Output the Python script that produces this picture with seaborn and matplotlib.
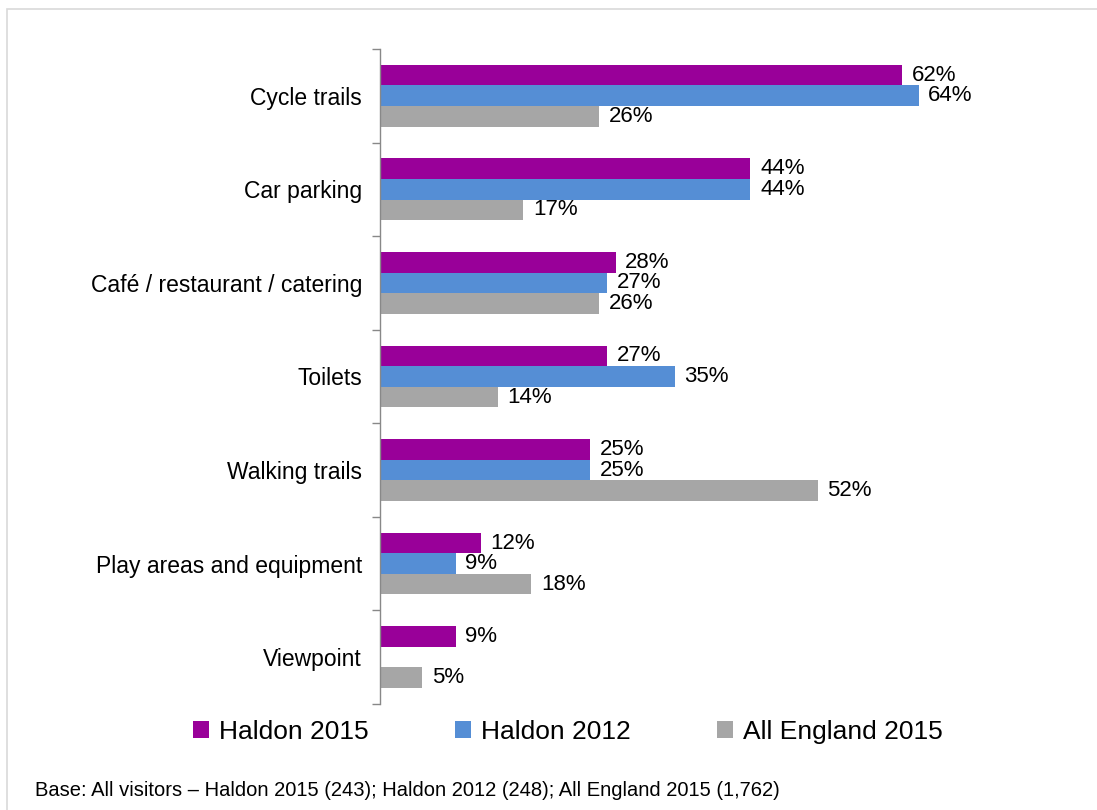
import matplotlib
matplotlib.use("Agg")
import matplotlib.pyplot as plt
from matplotlib.patches import Patch, Rectangle
import numpy as np
import pandas as pd
import seaborn as sns

categories = ["Cycle trails", "Car parking", "Café / restaurant / catering",
              "Toilets", "Walking trails", "Play areas and equipment", "Viewpoint"]
series_names = ["Haldon 2015", "Haldon 2012", "All England 2015"]
haldon_2015 = [62, 44, 28, 27, 25, 12, 9]
haldon_2012 = [64, 44, 27, 35, 25, 9, np.nan]
england_2015 = [26, 17, 26, 14, 52, 18, 5]
colors = ["#990099", "#558ED5", "#A6A6A6"]
footnote = "Base: All visitors \u2013 Haldon 2015 (243); Haldon 2012 (248); All England 2015 (1,762)"

rows = []
for name, vals in zip(series_names, [haldon_2015, haldon_2012, england_2015]):
    for cat, v in zip(categories, vals):
        rows.append({"category": cat, "series": name, "value": v})
df = pd.DataFrame(rows)

sns.set_theme(style="white")
plt.rcParams["font.family"] = ["Liberation Sans", "DejaVu Sans"]
plt.rcParams["text.color"] = "black"

fig = plt.figure(figsize=(10.97, 8.10), dpi=100)
ax = fig.add_axes([0.3464, 0.1309, 0.537, 0.8086])

sns.barplot(data=df, y="category", x="value", hue="series", order=categories,
            hue_order=series_names, palette=colors, orient="h", width=0.66,
            errorbar=None, saturation=1, ax=ax, legend=False, linewidth=0)

for cont in ax.containers:
    ax.bar_label(cont, fmt=lambda v: f"{v:.0f}%", padding=7, fontsize=16, color="black")

ax.set_xlim(0, 70)
ax.set_ylim(len(categories) - 0.5, -0.5)
ax.set_xlabel("")
ax.set_ylabel("")
ax.set_xticks([])
for s in ["top", "right", "bottom"]:
    ax.spines[s].set_visible(False)
ax.spines["left"].set_color("#888888")
ax.spines["left"].set_linewidth(1.0)
ax.tick_params(axis="y", which="major", left=False, length=0, pad=13, labelsize=16.5,
               labelcolor="black")
ax.set_yticks(np.arange(-0.5, len(categories), 1.0), minor=True)
ax.tick_params(axis="y", which="minor", left=True, length=6, width=1.0, color="#888888",
               direction="out")

handles = [Patch(facecolor=c, edgecolor="none", label=n) for c, n in zip(colors, series_names)]
fig.legend(handles=handles, loc="center", bbox_to_anchor=(568 / 1097, 1 - 732 / 810), ncol=3,
           frameon=False, fontsize=19, handlelength=0.6, handleheight=0.6,
           handletextpad=0.4, columnspacing=3.25, labelcolor="black")

fig.text(35 / 1097, 1 - 790 / 810, footnote, fontsize=14.5, va="center", ha="left", color="black")

fig.patches.append(Rectangle((7 / 1097, -0.01), 1.1, 1 - 9 / 810 + 0.01, transform=fig.transFigure,
                             fill=False, edgecolor="#D9D9D9", linewidth=1.2))

fig.savefig("out.png", dpi=100)
